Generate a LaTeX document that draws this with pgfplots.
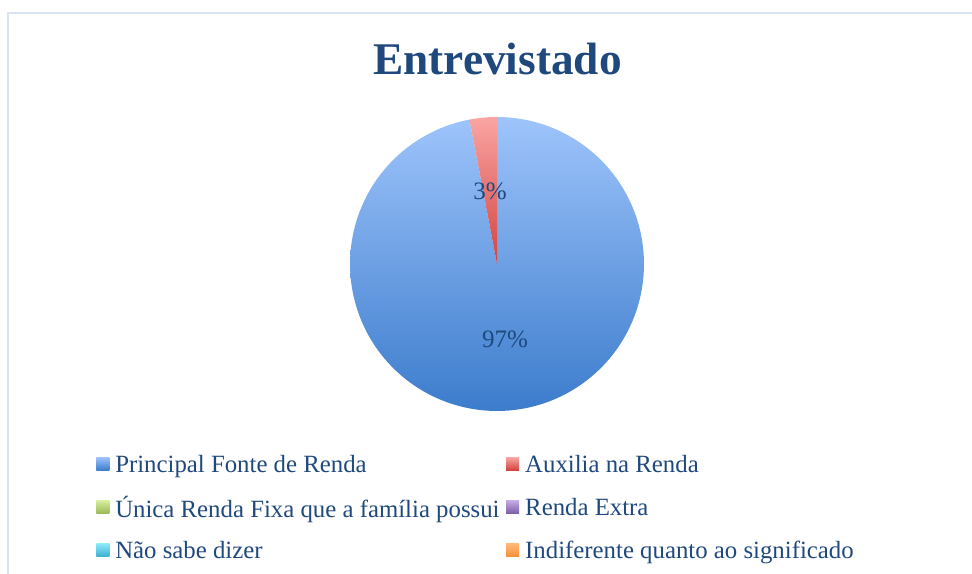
\documentclass[border=0pt]{standalone}
\usepackage{fontspec}
\setmainfont{Liberation Serif}
\usepackage{pgfplots}
\pgfplotsset{compat=1.18}

\definecolor{txtblue}{HTML}{1F497D}
\definecolor{framecol}{HTML}{D9E3F1}
\definecolor{blueTop}{HTML}{9EC4FB}
\definecolor{blueBot}{HTML}{3C7CCC}
\definecolor{redTop}{HTML}{FAA5A3}
\definecolor{redBot}{HTML}{D2443F}
\definecolor{greenTop}{HTML}{D7F0A0}
\definecolor{greenBot}{HTML}{9BBB59}
\definecolor{purpleTop}{HTML}{C6ADE6}
\definecolor{purpleBot}{HTML}{7D5FA8}
\definecolor{aquaTop}{HTML}{8DEBFA}
\definecolor{aquaBot}{HTML}{3FB2D0}
\definecolor{orangeTop}{HTML}{FFBA7A}
\definecolor{orangeBot}{HTML}{F5903A}

% shares of the pie, in percent
\def\shareA{97}
\def\shareB{3}

\pgfplotsset{
  swatch/.style={legend image code/.code={%
    \shade[draw=none, top color=#1Top, bottom color=#1Bot] (0pt,-4pt) rectangle (9.75pt,5.75pt);}},
}

\begin{document}
\begin{tikzpicture}
  \begin{axis}[
      name=ax,
      width=729pt, height=430.5pt,
      scale only axis,
      xmin=0, xmax=972, ymin=0, ymax=574,
      hide axis,
      clip=false,
      legend columns=2,
      legend cell align=left,
      legend style={
        draw=none, fill=none, inner sep=0pt,
        at={(axis cs:96,119)}, anchor=north west,
        font=\fontsize{18.6}{22}\selectfont,
        text=txtblue,
        row sep=16.3pt,
        nodes={inner sep=0pt},
        /tikz/every odd column/.append style={column sep=4.5pt},
        /tikz/every even column/.append style={column sep=5pt},
      },
    ]
    % pie: centre (497,310), radius 147, starting at 12 o'clock, clockwise
    \addplot[forget plot, draw=none, top color=blueTop, bottom color=blueBot,
      domain={90+3.6*\shareB}:450, samples=180, variable=\t]
      ({497+147*cos(t)}, {310+147*sin(t)}) -- (axis cs:497,310) -- cycle;
    \addplot[forget plot, draw=none, top color=redTop, bottom color=redBot,
      domain=90:{90+3.6*\shareB}, samples=10, variable=\t]
      ({497+147*cos(t)}, {310+147*sin(t)}) -- (axis cs:497,310) -- cycle;

    \addlegendimage{swatch=blue}
    \addlegendimage{swatch=red}
    \addlegendimage{swatch=green}
    \addlegendimage{swatch=purple}
    \addlegendimage{swatch=aqua}
    \addlegendimage{swatch=orange}
    \legend{Principal Fonte de Renda, Auxilia na Renda,
      Única Renda Fixa que a família possui, Renda Extra,
      Não sabe dizer, Indiferente quanto ao significado}

    \node[anchor=base, text=txtblue, font=\fontsize{18.8}{22}\selectfont]
      at (axis cs:490,374) {3\%};
    \node[anchor=base, text=txtblue, font=\fontsize{18.8}{22}\selectfont]
      at (axis cs:505,226) {97\%};
    \node[anchor=base, text=txtblue, font=\fontsize{34}{36}\selectfont\bfseries]
      at (axis cs:497.5,499) {Entrevistado};
    \draw[framecol, line width=1.5pt] (axis cs:8,-20) -- (axis cs:8,561) -- (axis cs:1000,561);
  \end{axis}
  \pgfresetboundingbox
  \path (ax.south west) rectangle (ax.north east);
\end{tikzpicture}
\end{document}
